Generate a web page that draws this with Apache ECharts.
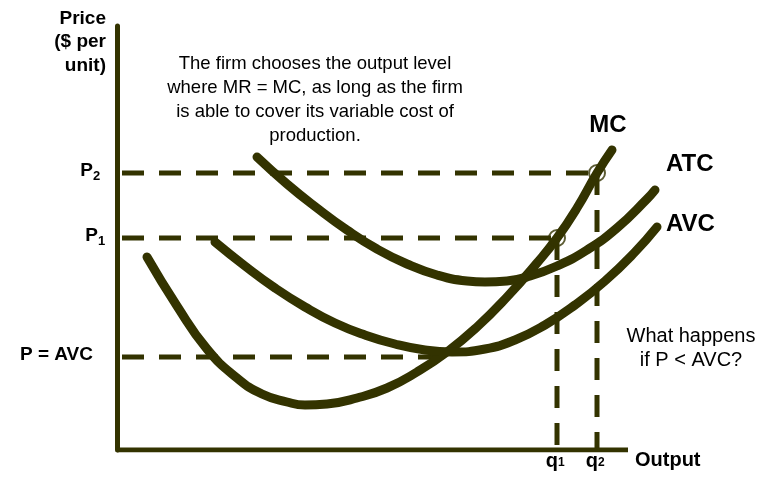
<!DOCTYPE html>
<html>
<head>
<meta charset="utf-8">
<title>MC ATC AVC</title>
<script src="https://cdn.jsdelivr.net/npm/echarts@6/dist/echarts.min.js"></script>
<style>
  html, body { margin: 0; padding: 0; background: #fff; }
  #chart { width: 761px; height: 477px; }
</style>
</head>
<body>
<div id="chart"></div>
<script>
var ink = '#333300';
var font = "'Liberation Sans', Arial, sans-serif";

// cost curves, [output, price] in axis units
var mcData  = [[30,193],[60,144],[90,101],[120,72],[145,56],[170,48],[188,45],[210,46],[240,52],[270,62],[300,78],[330,98],[360,123],[390,153],[420,187],[440,212],[460,242],[480,277],[495,300]];
var atcData = [[140,293],[170,266],[200,242],[230,220],[260,201],[290,186],[320,175],[350,169],[368,168],[390,169],[410,173],[440,184],[470,200],[500,222],[530,251],[538,260]];
var avcData = [[98,208],[128,184],[158,162],[188,143],[218,127],[248,115],[278,106],[308,100],[335,98],[368,101],[398,110],[428,125],[458,145],[488,169],[518,198],[540,223]];

// output axis ends here (curves run on past it)
var outputAxisEnd = 511;

// price levels and where their dashed guide stops
var pValues = [277, 212, 93];
var pEnds   = [480, 440, 323];
var pLabels = ['P', 'P', 'P = AVC'];
var pSubs   = ['2', '1', ''];

// output levels (q1, q2) and the price they meet MC at
var qValues = [440, 480];
var qTops   = [212, 277];
var qSubs   = ['1', '2'];

var chart = echarts.init(document.getElementById('chart'));

var series = [];
// horizontal axis, drawn as a line so the curves can run past its end
series.push({
    type: 'line', data: [[0, 0], [outputAxisEnd, 0]], symbol: 'none', z: 5, silent: true,
    lineStyle: { color: ink, width: 5, cap: 'butt' }
});
pValues.forEach(function (p, i) {
    series.push({
        type: 'line', data: [[5, p], [pEnds[i], p]], symbol: 'none', z: 2,
        lineStyle: { color: ink, width: 5, type: [22, 15] }, silent: true
    });
});
qValues.forEach(function (q, i) {
    series.push({
        type: 'line', data: [[q, qTops[i]], [q, 0]], symbol: 'none', z: 2,
        lineStyle: { color: ink, width: 5, type: [22, 15] }, silent: true
    });
});
[mcData, atcData, avcData].forEach(function (d) {
    series.push({
        type: 'line', data: d, symbol: 'none', smooth: 0.5, z: 3,
        lineStyle: { color: ink, width: 9, cap: 'round', join: 'round' }
    });
});
series.push({
    type: 'scatter', z: 4, symbol: 'circle', symbolSize: 16,
    data: qValues.map(function (q, i) { return [q, qTops[i]]; }),
    itemStyle: { color: 'rgba(0,0,0,0)', borderColor: ink, borderWidth: 2 }
});

chart.setOption({
    animation: false,
    grid: { left: 117, right: 84, top: 26, bottom: 27 },
    xAxis: {
        type: 'value', min: 0, max: 560,
        axisLine: { show: false },
        axisTick: { show: false }, axisLabel: { show: false }, splitLine: { show: false }
    },
    yAxis: {
        type: 'value', min: 0, max: 424,
        axisLine: { show: true, lineStyle: { color: ink, width: 5 } },
        axisTick: { show: false }, axisLabel: { show: false }, splitLine: { show: false }
    },
    series: series
});

function txt(s, x, y, size, bold, align, lh) {
    return {
        type: 'text', z: 10,
        style: {
            text: s, x: x, y: y, fill: '#000',
            font: (bold ? 'bold ' : '') + size + 'px ' + font,
            align: align || 'left', verticalAlign: 'middle', lineHeight: lh || size
        }
    };
}

var g = [];
g.push(txt('Price\n($ per\nunit)', 106, 42, 19, true, 'right', 23.5));
g.push(txt('The firm chooses the output level\nwhere MR = MC, as long as the firm\nis able to cover its variable cost of\nproduction.', 315, 100, 18.5, false, 'center', 24));
g.push(txt('MC', 608, 125, 24, true, 'center'));
g.push(txt('ATC', 666, 164, 24, true, 'left'));
g.push(txt('AVC', 666, 224, 24, true, 'left'));
g.push(txt('What happens\nif P < AVC?', 691, 348, 20, false, 'center', 24));
g.push(txt('Output', 635, 460, 20, true, 'left'));

var pRight = [93, 98, 93];
pValues.forEach(function (p, i) {
    var y = chart.convertToPixel({ gridIndex: 0 }, [0, p])[1];
    g.push(txt(pLabels[i], pRight[i], y - 2, 19, true, 'right'));
    if (pSubs[i]) g.push(txt(pSubs[i], pRight[i], y + 3, 13, true, 'left'));
});
qValues.forEach(function (q, i) {
    var x = chart.convertToPixel({ gridIndex: 0 }, [q, 0])[0];
    g.push(txt('q', x + 1, 461, 20, true, 'right'));
    g.push(txt(qSubs[i], x + 1, 463, 12, true, 'left'));
});

chart.setOption({ graphic: g });
</script>
</body>
</html>
